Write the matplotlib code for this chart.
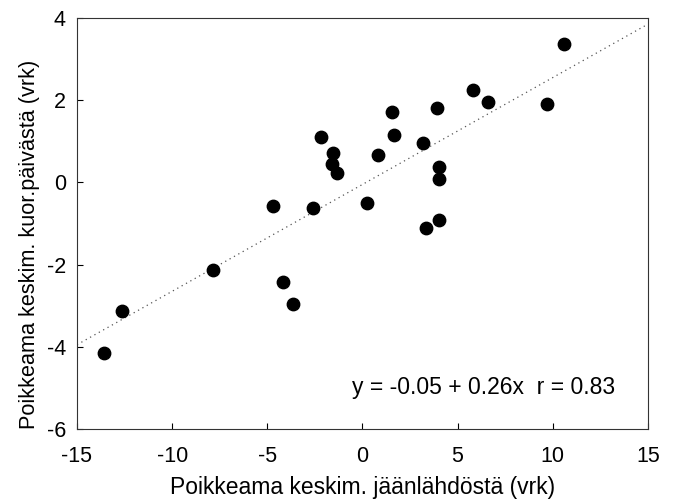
import numpy as np
import matplotlib.pyplot as plt

plt.rcParams['font.family'] = ['Liberation Sans', 'DejaVu Sans']
plt.rcParams['axes.unicode_minus'] = False

# deviations
x_ice = [-13.6, -12.65, -7.85, -4.17, -3.65, -4.70, -2.60, -2.18, -1.55, -1.60,
         -1.34, 0.24, 0.82, 1.55, 1.66, 3.18, 3.92, 4.02, 4.02, 4.02,
         3.34, 5.81, 6.60, 9.70, 10.59]
y_hatch = [-4.15, -3.12, -2.13, -2.42, -2.96, -0.57, -0.62, 1.10, 0.72, 0.45,
           0.23, -0.50, 0.67, 1.71, 1.15, 0.96, 1.81, 0.37, 0.08, -0.91,
           -1.11, 2.25, 1.96, 1.91, 3.37]

a = -0.05
b = 0.26

fig = plt.figure(figsize=(6.77, 5.0), dpi=100)
ax = fig.add_axes([0.1137, 0.142, 0.8433, 0.822])

xl = np.array([-15, 15])
ax.plot(xl, a + b * xl, linestyle=(0, (1, 3)), color='#555555', lw=0.9)
ax.scatter(x_ice, y_hatch, s=80, color='black', zorder=3)

ax.set_xlim(-15, 15)
ax.set_ylim(-6, 4)
ax.set_xticks([-15, -10, -5, 0, 5, 10, 15])
ax.set_yticks([-6, -4, -2, 0, 2, 4])
ax.tick_params(direction='in', length=4, width=0.8, labelsize=15.5)
ax.tick_params(axis='x', pad=12)
ax.tick_params(axis='y', pad=8)
for s in ax.spines.values():
    s.set_linewidth(0.8)
    s.set_color('#333333')

ax.text(13.3, -5.0, 'y = -0.05 + 0.26x  r = 0.83', ha='right', va='center', fontsize=16.5)

ax.set_xlabel('Poikkeama keskim. jäänlähdöstä (vrk)', fontsize=16.5, labelpad=7)
ax.set_ylabel('Poikkeama keskim. kuor.päivästä (vrk)', fontsize=15.6)
ax.yaxis.set_label_coords(-0.064, 0.448)

fig.savefig('out.png', dpi=100)
